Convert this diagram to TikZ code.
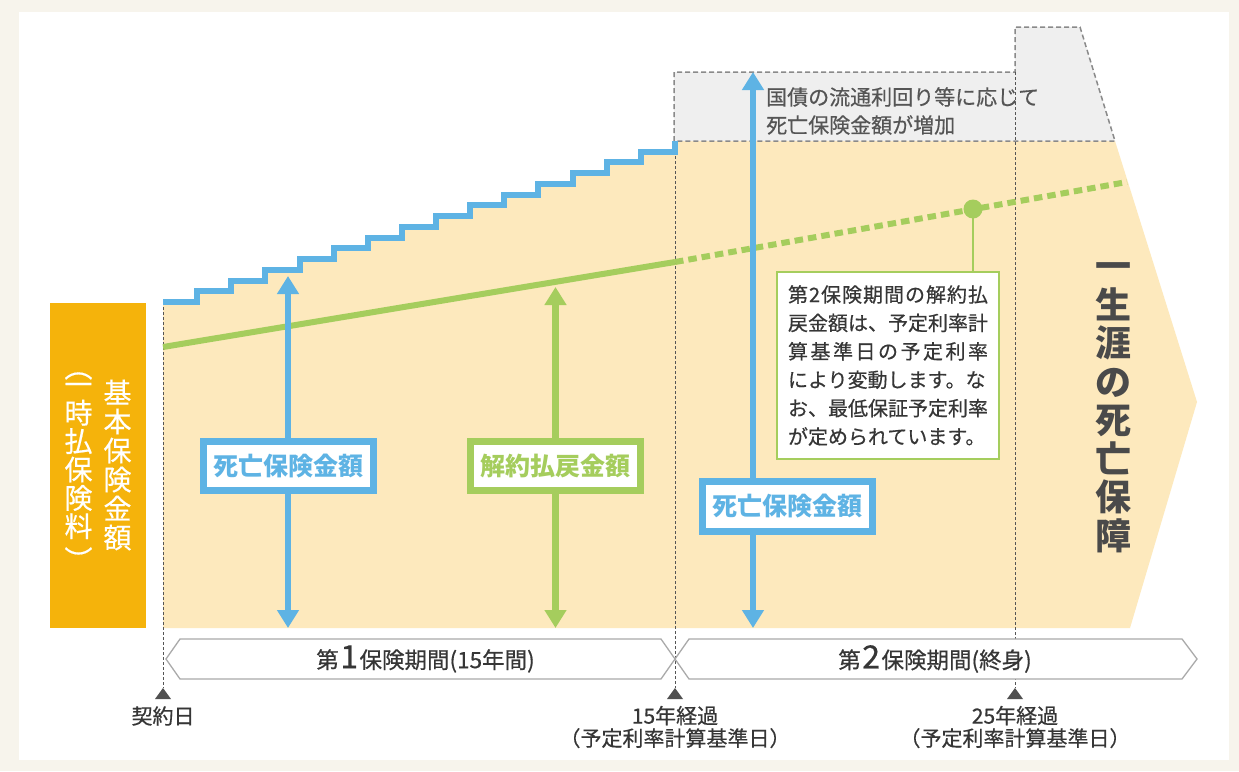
\documentclass[tikz,border=0pt]{standalone}
\usepackage{fontspec}
\setmainfont{Noto Sans CJK JP}[UprightFeatures={FakeBold=0.5}]
\usetikzlibrary{arrows.meta}
\definecolor{creambg}{HTML}{F7F4EC}
\definecolor{amber}{HTML}{F5B30B}
\definecolor{lightorange}{HTML}{FDE9BD}
\definecolor{myblue}{HTML}{5EB3E4}
\definecolor{mygreen}{HTML}{A5CD5D}
\definecolor{grayfill}{HTML}{EFEFEF}
\definecolor{graydash}{HTML}{8A8A8A}
\definecolor{darktext}{HTML}{363636}
\definecolor{graytext}{HTML}{555555}
\definecolor{bigtext}{HTML}{4A4A4A}
\definecolor{bandcol}{HTML}{AAAAAA}
\definecolor{tricol}{HTML}{505050}
\definecolor{dotcol}{HTML}{555555}
\tikzset{
  bluearr/.style={draw=myblue, line width=6.5pt, -{Triangle[length=18pt,width=21pt]}},
  greenarr/.style={draw=mygreen, line width=6.5pt, -{Triangle[length=18pt,width=21pt]}},
  lblbox/.style={line width=7pt, fill=white, minimum width=170pt, minimum height=49pt,
     inner sep=0pt, font=\fontsize{25}{25}\selectfont\bfseries},
  vdot/.style={draw=dotcol, line width=1pt, dash pattern=on 3pt off 2pt},
  bandshape/.style={draw=bandcol, line width=1.3pt, fill=white},
  tri/.style={fill=tricol},
  botlab/.style={font=\fontsize{21}{22.5}\selectfont, text=darktext, align=center, inner sep=0pt},
  bandtext/.style={font=\fontsize{22.5}{22.5}\selectfont, text=darktext, inner sep=0pt},
  vcol/.style={font=\fontsize{28}{29}\selectfont, text=white, align=center, inner sep=0pt},
}
\begin{document}
\begin{tikzpicture}[x=1pt,y=-1pt]
\useasboundingbox (0,0) rectangle (1239,771);
\fill[creambg] (0,0) rectangle (1239,771);
\fill[white] (19,12) rectangle (1229,760);

% light orange area
\fill[lightorange] (163,628) -- (163,302)
  \foreach \i in {1,...,15}{ -| ({163+\i*34.133},{302-\i*10.733}) }
  -- (1115,141) -- (1197,402) -- (1130,628) -- cycle;

% gray increase area
\draw[draw=graydash, line width=1.5pt, dash pattern=on 5pt off 3pt, fill=grayfill]
  (674,141) -- (674,72) -- (1015,72) -- (1015,27) -- (1080,27) -- (1115,141) -- cycle;

% dotted vertical guide lines
\coordinate (g0t) at (163,302); \coordinate (g0b) at (163,688);
\coordinate (g1t) at (675,141); \coordinate (g1b) at (675,688);
\coordinate (g2t) at (1015,72); \coordinate (g2b) at (1015,688);
\draw[vdot] (g0t) -- (g0b);
\draw[vdot] (g1t) -- (g1b);
\draw[vdot] (g2t) -- (g2b);

% step line
\draw[myblue, line width=6pt, line join=miter] (163,302)
  \foreach \i in {1,...,15}{ -| ({163+\i*34.133},{302-\i*10.733}) };

% green surrender value line
\coordinate (gs) at (163,347);
\coordinate (gm) at (675,262);
\coordinate (ge) at (1127,182);
\draw[mygreen, line width=6pt] (gs) -- (gm);
\draw[mygreen, line width=6pt, dash pattern=on 8.5pt off 5pt] (gm) -- (ge);
\coordinate (dot) at (973,209);
\fill[mygreen] (dot) circle[radius=9.5pt];

% callout
\node[draw=mygreen, line width=2pt, fill=white, minimum width=222pt, minimum height=187pt,
      inner sep=0pt, font=\fontsize{20}{28.4}\selectfont, text=darktext, align=left] (note) at (888,365.5)
  {\hbox to 200pt{第\hfil 2\hfil 保\hfil 険\hfil 期\hfil 間\hfil の\hfil 解\hfil 約\hfil 払}\\
   \hbox to 200pt{戻金額は、予定利率計}\\
   \hbox to 200pt{算\hfil 基\hfil 準\hfil 日\hfil の\hfil 予\hfil 定\hfil 利\hfil 率}\\
   \hbox to 200pt{により変動します。な}\\
   \hbox to 200pt{お、最低保証予定利率}\\
   \hbox to 200pt{が定められています。\hfil}};
\draw[mygreen, line width=2.5pt] (dot) -- (note.north -| dot);

% arrows with labels
\coordinate (a1t) at (288,276); \coordinate (a1b) at (288,628);
\node[lblbox, draw=myblue, text=myblue] (d1) at (288,466) {死亡保険金額};
\draw[bluearr] (d1.north) -- (a1t);
\draw[bluearr] (d1.south) -- (a1b);

\coordinate (a2t) at (555.5,287); \coordinate (a2b) at (555.5,628);
\node[lblbox, draw=mygreen, text=mygreen] (d2) at (555.5,466) {解約払戻金額};
\draw[greenarr] (d2.north) -- (a2t);
\draw[greenarr] (d2.south) -- (a2b);

\coordinate (a3t) at (753,72); \coordinate (a3b) at (753,628);
\node[lblbox, draw=myblue, text=myblue, minimum height=50pt] (d3) at (787.5,506.5) {死亡保険金額};
\draw[bluearr] (d3.north -| a3t) -- (a3t);
\draw[bluearr] (d3.south -| a3b) -- (a3b);

% gray note
\node[anchor=west, align=left, inner sep=0pt, font=\fontsize{21}{28}\selectfont, text=graytext] (inc) at (766,111)
  {国債の流通利回り等に応じて\\死亡保険金額が増加};

% lifelong text
\node[font=\fontsize{36}{38.5}\selectfont\bfseries, text=bigtext, align=center, inner sep=0pt] (life) at (1113,408)
  {一\\生\\涯\\の\\死\\亡\\保\\障};

% amber box
\node[fill=amber, minimum width=96pt, minimum height=325pt, inner sep=0pt] (base) at (98,465.5) {};
\node[vcol] (basetxt) at (117.5,465) {基\\本\\保\\険\\金\\額};
\node[vcol, font=\fontsize{28}{28.4}\selectfont] (paytxt) at (78.5,461) {一\\時\\払\\保\\険\\料};
\node[vcol] (po) at (78.5,376) {︵};
\node[vcol] (pc) at (78.5,559) {︶};

% period bands
\draw[bandshape] (166,659) -- (180,639) -- (661,639) -- (675,659) -- (661,679) -- (180,679) -- cycle;
\draw[bandshape] (675,659) -- (689,639) -- (1182,639) -- (1197,659) -- (1182,679) -- (689,679) -- cycle;
\node[bandtext] (b1) at (425.5,659) {第\kern1.5pt{\fontsize{32}{32}\selectfont 1}\kern1.5pt 保険期間(15年間)};
\node[bandtext] (b2) at (935,659) {第\kern1.5pt{\fontsize{32}{32}\selectfont 2}\kern1.5pt 保険期間(終身)};

% markers
\fill[tri] (675,688) -- (683,699) -- (667,699) -- cycle;
\fill[tri] (163,688) -- (171,699) -- (155,699) -- cycle;
\fill[tri] (1015,688) -- (1023,699) -- (1007,699) -- cycle;
\node[botlab] (l0) at (163,716) {契約日};
\node[botlab] (l1) at (675,727) {15年経過\\（予定利率計算基準日）};
\node[botlab] (l2) at (1015,727) {25年経過\\（予定利率計算基準日）};
\end{tikzpicture}
\end{document}
